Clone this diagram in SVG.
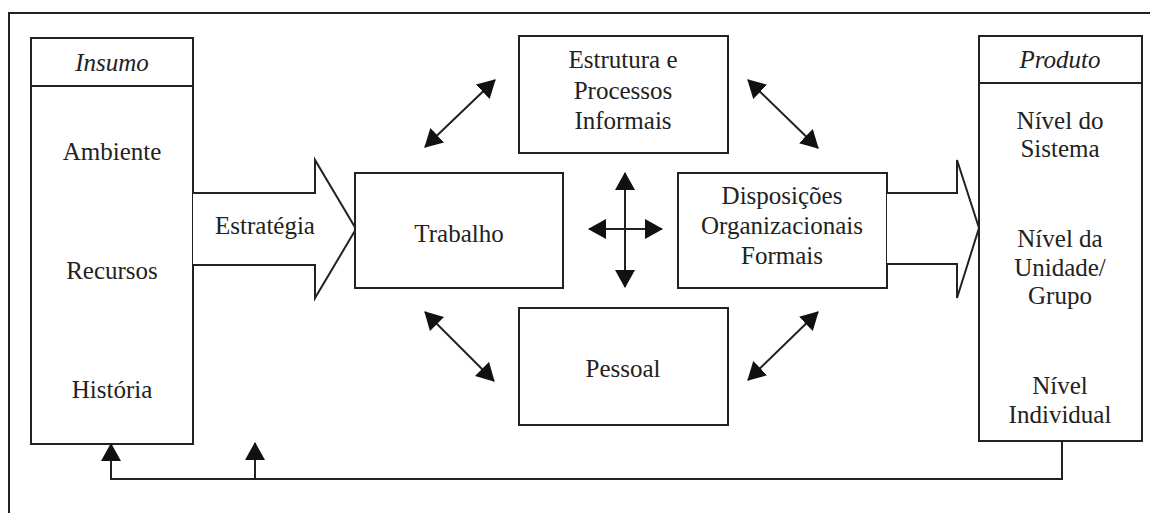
<svg xmlns="http://www.w3.org/2000/svg" width="1150" height="513" viewBox="0 0 1150 513">
  <style>
    .box { fill: #fff; stroke: #222; stroke-width: 2; }
    .ln { fill: none; stroke: #222; stroke-width: 2; }
    text { font-family: "Liberation Serif", "Times New Roman", serif; font-size: 25px; fill: #222; text-anchor: middle; }
    .it { font-style: italic; }
  </style>
  <defs>
    <marker id="head" viewBox="0 0 18 20" refX="17" refY="10" markerWidth="18" markerHeight="20" markerUnits="userSpaceOnUse" orient="auto-start-reverse">
      <path d="M0,0 L18,10 L0,20 z" fill="#111"/>
    </marker>
  </defs>

  <rect width="1150" height="513" fill="#fff"/>
  <!-- outer frame -->
  <path class="ln" d="M9,513 L9,13 L1150,13"/>

  <g id="insumo">
    <rect class="box" x="31" y="38" width="162" height="406"/>
    <line class="ln" x1="31" y1="86" x2="193" y2="86"/>
    <text class="it" x="112" y="71">Insumo</text>
    <text x="112" y="160">Ambiente</text>
    <text x="112" y="279">Recursos</text>
    <text x="112" y="398">História</text>
  </g>

  <g id="estrategia">
    <path class="box" d="M193,193 L315,193 L315,160 L356,229 L315,298 L315,265 L193,265"/>
    <text x="265" y="234">Estratégia</text>
  </g>

  <g id="trabalho">
    <rect class="box" x="355" y="173" width="208" height="115"/>
    <text x="459" y="242">Trabalho</text>
  </g>

  <g id="estrutura">
    <rect class="box" x="519" y="36" width="209" height="117"/>
    <text x="623" y="68">Estrutura e</text>
    <text x="623" y="99">Processos</text>
    <text x="623" y="129">Informais</text>
  </g>

  <g id="pessoal">
    <rect class="box" x="519" y="308" width="209" height="117"/>
    <text x="623" y="377">Pessoal</text>
  </g>

  <g id="disposicoes">
    <rect class="box" x="678" y="173" width="209" height="115"/>
    <text x="782" y="204">Disposições</text>
    <text x="782" y="234">Organizacionais</text>
    <text x="782" y="264">Formais</text>
  </g>

  <g id="saida">
    <path class="box" d="M887,193 L957,193 L957,160 L979,228 L957,298 L957,264 L887,264"/>
  </g>

  <g id="produto">
    <rect class="box" x="979" y="36" width="163" height="405"/>
    <line class="ln" x1="979" y1="83" x2="1142" y2="83"/>
    <text class="it" x="1060" y="68">Produto</text>
    <text x="1060" y="129">Nível do</text>
    <text x="1060" y="157">Sistema</text>
    <text x="1060" y="247">Nível da</text>
    <text x="1060" y="276">Unidade/</text>
    <text x="1060" y="304">Grupo</text>
    <text x="1060" y="394">Nível</text>
    <text x="1060" y="423">Individual</text>
  </g>

  <g id="connectors">
    <!-- four-way interaction -->
    <line class="ln" x1="625" y1="173" x2="625" y2="287" marker-start="url(#head)" marker-end="url(#head)"/>
    <line class="ln" x1="589" y1="229" x2="662" y2="229" marker-start="url(#head)" marker-end="url(#head)"/>
    <!-- diagonal links -->
    <line class="ln" x1="425" y1="147" x2="495" y2="80" marker-start="url(#head)" marker-end="url(#head)"/>
    <line class="ln" x1="748" y1="80" x2="818" y2="148" marker-start="url(#head)" marker-end="url(#head)"/>
    <line class="ln" x1="425" y1="312" x2="494" y2="381" marker-start="url(#head)" marker-end="url(#head)"/>
    <line class="ln" x1="818" y1="312" x2="748" y2="380" marker-start="url(#head)" marker-end="url(#head)"/>
    <!-- feedback loop -->
    <path class="ln" d="M1062,441 L1062,479 L111,479 L111,444" marker-end="url(#head)"/>
    <path class="ln" d="M255,479 L255,443" marker-end="url(#head)"/>
  </g>
</svg>
